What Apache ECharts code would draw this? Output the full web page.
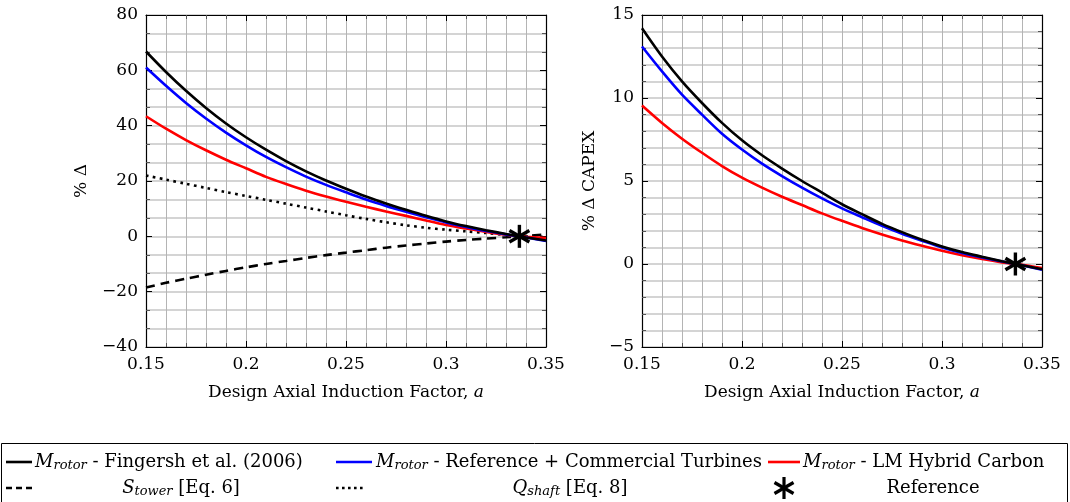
<!DOCTYPE html>
<html>
<head>
<meta charset="utf-8">
<script src="https://cdn.jsdelivr.net/npm/echarts/dist/echarts.min.js"></script>
<style>
  html, body { margin: 0; padding: 0; background: #fff; }
  #chart { width: 1070px; height: 502px; }
</style>
</head>
<body>
<div id="chart"></div>
<script>
// design axial induction factor a
const aValues = [0.15, 0.16, 0.17, 0.18, 0.19, 0.20, 0.21, 0.22, 0.23, 0.24, 0.25,
                 0.26, 0.27, 0.28, 0.29, 0.30, 0.31, 0.32, 0.33, 0.3367, 0.34, 0.35];

// left panel: % delta
const leftFingersh = [66.8, 59.4, 52.6, 46.4, 40.8, 35.8, 31.3, 27.2, 23.5, 20.2, 17.2,
                      14.4, 11.9, 9.6, 7.4, 5.4, 3.7, 2.2, 0.85, 0, -0.4, -1.5];
const leftCommercial = [61.0, 54.4, 48.2, 42.6, 37.5, 32.9, 28.7, 25.0, 21.6, 18.6, 15.9,
                        13.3, 11.0, 8.9, 6.9, 5.0, 3.4, 1.9, 0.7, 0, -0.4, -1.7];
const leftHybrid = [43.4, 38.9, 34.8, 31.1, 27.7, 24.6, 21.5, 18.9, 16.5, 14.4, 12.5,
                    10.7, 9.0, 7.4, 5.7, 4.1, 2.8, 1.6, 0.6, 0, -0.2, -0.6];
const leftTower = [-18.5, -16.8, -15.3, -13.9, -12.5, -11.2, -10.0, -8.9, -7.8, -6.8, -5.9,
                   -5.0, -4.1, -3.3, -2.6, -1.9, -1.3, -0.8, -0.35, 0, 0.15, 0.7];
const leftShaft = [22.0, 20.5, 19.0, 17.5, 16.0, 14.6, 13.2, 11.8, 10.4, 9.0, 7.6,
                   6.3, 5.1, 4.0, 3.1, 2.4, 1.8, 1.2, 0.5, 0, -0.1, -0.2];

// right panel: % delta CAPEX
const capexFingersh = [14.2, 12.5, 11.0, 9.7, 8.5, 7.45, 6.55, 5.75, 5.0, 4.3, 3.6,
                       3.0, 2.42, 1.92, 1.46, 1.06, 0.72, 0.44, 0.17, 0, -0.07, -0.32];
const capexCommercial = [13.1, 11.6, 10.2, 9.0, 7.85, 6.9, 6.05, 5.3, 4.6, 3.95, 3.35,
                         2.82, 2.3, 1.82, 1.4, 1.0, 0.67, 0.4, 0.15, 0, -0.08, -0.35];
const capexHybrid = [9.55, 8.5, 7.55, 6.7, 5.9, 5.2, 4.6, 4.05, 3.55, 3.05, 2.6,
                     2.17, 1.78, 1.42, 1.1, 0.8, 0.53, 0.3, 0.1, 0, -0.04, -0.24];

const refPoint = [0.3367, 0];

const xTicks = { min: 0.15, max: 0.35, interval: 0.05 };
const leftTicks = { min: -40, max: 80, interval: 20 };
const rightTicks = { min: -5, max: 15, interval: 5 };

const FONT = 'DejaVu Serif';
const FS = 17;
const pair = ys => aValues.map((a, i) => [a, ys[i]]);
const minus = v => String(v).replace('-', '\u2212');

let myChart = echarts.init(document.getElementById('chart'));

function xAxes(gridIndex) {
    return [{
        type: 'value', gridIndex: gridIndex,
        min: xTicks.min, max: xTicks.max, interval: xTicks.interval,
        name: 'Design Axial Induction Factor, {i|a}',
        nameLocation: 'middle', nameGap: 37,
        nameTextStyle: {
            fontFamily: FONT, fontSize: FS, color: '#000',
            rich: { i: { fontFamily: FONT, fontSize: FS, fontStyle: 'italic', color: '#000' } }
        },
        axisLine: { onZero: false, lineStyle: { color: '#000', width: 1.2 } },
        axisTick: { inside: true, length: 6, lineStyle: { color: '#000' } },
        minorTick: { show: true, splitNumber: 5, length: 4, lineStyle: { color: '#555' } },
        axisLabel: { fontFamily: FONT, fontSize: FS, color: '#000', margin: 9 },
        splitLine: { show: true, lineStyle: { color: '#b4b4b4', width: 1 } },
        minorSplitLine: { show: true, lineStyle: { color: '#b4b4b4', width: 1 } }
    }, {
        type: 'value', gridIndex: gridIndex, position: 'top',
        min: xTicks.min, max: xTicks.max, interval: xTicks.interval,
        axisLine: { onZero: false, lineStyle: { color: '#000', width: 1.2 } },
        axisTick: { inside: true, length: 6, lineStyle: { color: '#000' } },
        minorTick: { show: true, splitNumber: 5, length: 4, lineStyle: { color: '#555' } },
        axisLabel: { show: false },
        splitLine: { show: false }
    }];
}

function yAxes(gridIndex, ticks, name, gap, minorNum) {
    return [{
        type: 'value', gridIndex: gridIndex,
        min: ticks.min, max: ticks.max, interval: ticks.interval,
        name: name, nameLocation: 'middle', nameGap: gap,
        nameTextStyle: { fontFamily: FONT, fontSize: FS, color: '#000' },
        axisLine: { onZero: false, lineStyle: { color: '#000', width: 1.2 } },
        axisTick: { inside: true, length: 6, lineStyle: { color: '#000' } },
        minorTick: { show: true, splitNumber: minorNum, length: 4, lineStyle: { color: '#555' } },
        axisLabel: { fontFamily: FONT, fontSize: FS, color: '#000', margin: 8, formatter: minus },
        splitLine: { show: true, lineStyle: { color: '#d4d4d4', width: 2 } },
        minorSplitLine: { show: true, lineStyle: { color: '#d4d4d4', width: 2 } }
    }, {
        type: 'value', gridIndex: gridIndex, position: 'right',
        min: ticks.min, max: ticks.max, interval: ticks.interval,
        axisLine: { onZero: false, lineStyle: { color: '#000', width: 1.2 } },
        axisTick: { inside: true, length: 6, lineStyle: { color: '#000' } },
        minorTick: { show: true, splitNumber: minorNum, length: 4, lineStyle: { color: '#555' } },
        axisLabel: { show: false },
        splitLine: { show: false }
    }];
}

function curve(name, xi, yi, data, color, type) {
    return {
        name: name, type: 'line', xAxisIndex: xi, yAxisIndex: yi,
        data: pair(data), smooth: 0.3, showSymbol: false, silent: true,
        lineStyle: { color: color, width: 2.6, type: type || 'solid' }
    };
}

// asterisk = three rotated bars at the reference point
function star(xi, yi) {
    return {
        type: 'scatter', xAxisIndex: xi, yAxisIndex: yi,
        data: [0, 60, -60].map(r => ({ value: refPoint, symbolRotate: r })),
        symbol: 'rect', symbolSize: [3.4, 23], silent: true, z: 10,
        itemStyle: { color: '#000', opacity: 1 }
    };
}

// legend table
const sub = { fontFamily: FONT, fontSize: 13, fontStyle: 'italic', color: '#000', padding: [8, 0, 0, 0] };
const ital = { fontFamily: FONT, fontSize: 18, fontStyle: 'italic', color: '#000' };
const txt = { fontFamily: FONT, fontSize: 18, color: '#000' };
const rich = { m: ital, s: sub, t: txt };

function legendText(x, y, text, align) {
    return { type: 'text', x: x, y: y, style: { text: text, rich: rich, align: align, verticalAlign: 'middle' } };
}
function legendLine(x1, x2, y, color, dash) {
    return { type: 'line', shape: { x1: x1, y1: y, x2: x2, y2: y },
             style: { stroke: color, lineWidth: 2.6, lineDash: dash || null } };
}
function legendStar(cx, cy) {
    return [0, 60, -60].map(r => ({
        type: 'rect', x: cx, y: cy, rotation: r * Math.PI / 180,
        shape: { x: -1.6, y: -11, width: 3.2, height: 22 },
        style: { fill: '#000' }
    }));
}

myChart.setOption({
    animation: false,
    grid: [
        { left: 146, right: 524, top: 15, height: 332 },
        { left: 642, right: 28, top: 15, height: 332 }
    ],
    xAxis: xAxes(0).concat(xAxes(1)),
    yAxis: yAxes(0, leftTicks, '% \u0394', 56, 3).concat(yAxes(1, rightTicks, '% \u0394 CAPEX', 44, 5)),
    series: [
        curve('Tower', 0, 0, leftTower, '#000', [9, 6]),
        curve('Shaft', 0, 0, leftShaft, '#000', [2.6, 4.4]),
        curve('Hybrid', 0, 0, leftHybrid, '#ff0000'),
        curve('Commercial', 0, 0, leftCommercial, '#0000ff'),
        curve('Fingersh', 0, 0, leftFingersh, '#000'),
        star(0, 0),
        curve('Hybrid', 2, 2, capexHybrid, '#ff0000'),
        curve('Commercial', 2, 2, capexCommercial, '#0000ff'),
        curve('Fingersh', 2, 2, capexFingersh, '#000'),
        star(2, 2)
    ],
    graphic: [
        { type: 'rect', shape: { x: 1.5, y: 443.5, width: 1066, height: 60 },
          style: { fill: 'none', stroke: '#000', lineWidth: 1 } },
        legendLine(6, 32, 462, '#000'),
        legendText(35, 462, '{m|M}{s|rotor}{t| - Fingersh et al. (2006)}', 'left'),
        legendLine(336, 372, 462, '#0000ff'),
        legendText(376, 462, '{m|M}{s|rotor}{t| - Reference + Commercial Turbines}', 'left'),
        legendLine(768, 800, 462, '#ff0000'),
        legendText(803, 462, '{m|M}{s|rotor}{t| - LM Hybrid Carbon}', 'left'),
        legendLine(6, 32, 488, '#000', [6, 4]),
        legendText(181, 488, '{m|S}{s|tower}{t| [Eq. 6]}', 'center'),
        legendLine(336, 366, 488, '#000', [2.6, 3.4]),
        legendText(570, 488, '{m|Q}{s|shaft}{t| [Eq. 8]}', 'center'),
        legendText(933, 488, '{t|Reference}', 'center')
    ].concat(legendStar(784, 488))
});
</script>
</body>
</html>
